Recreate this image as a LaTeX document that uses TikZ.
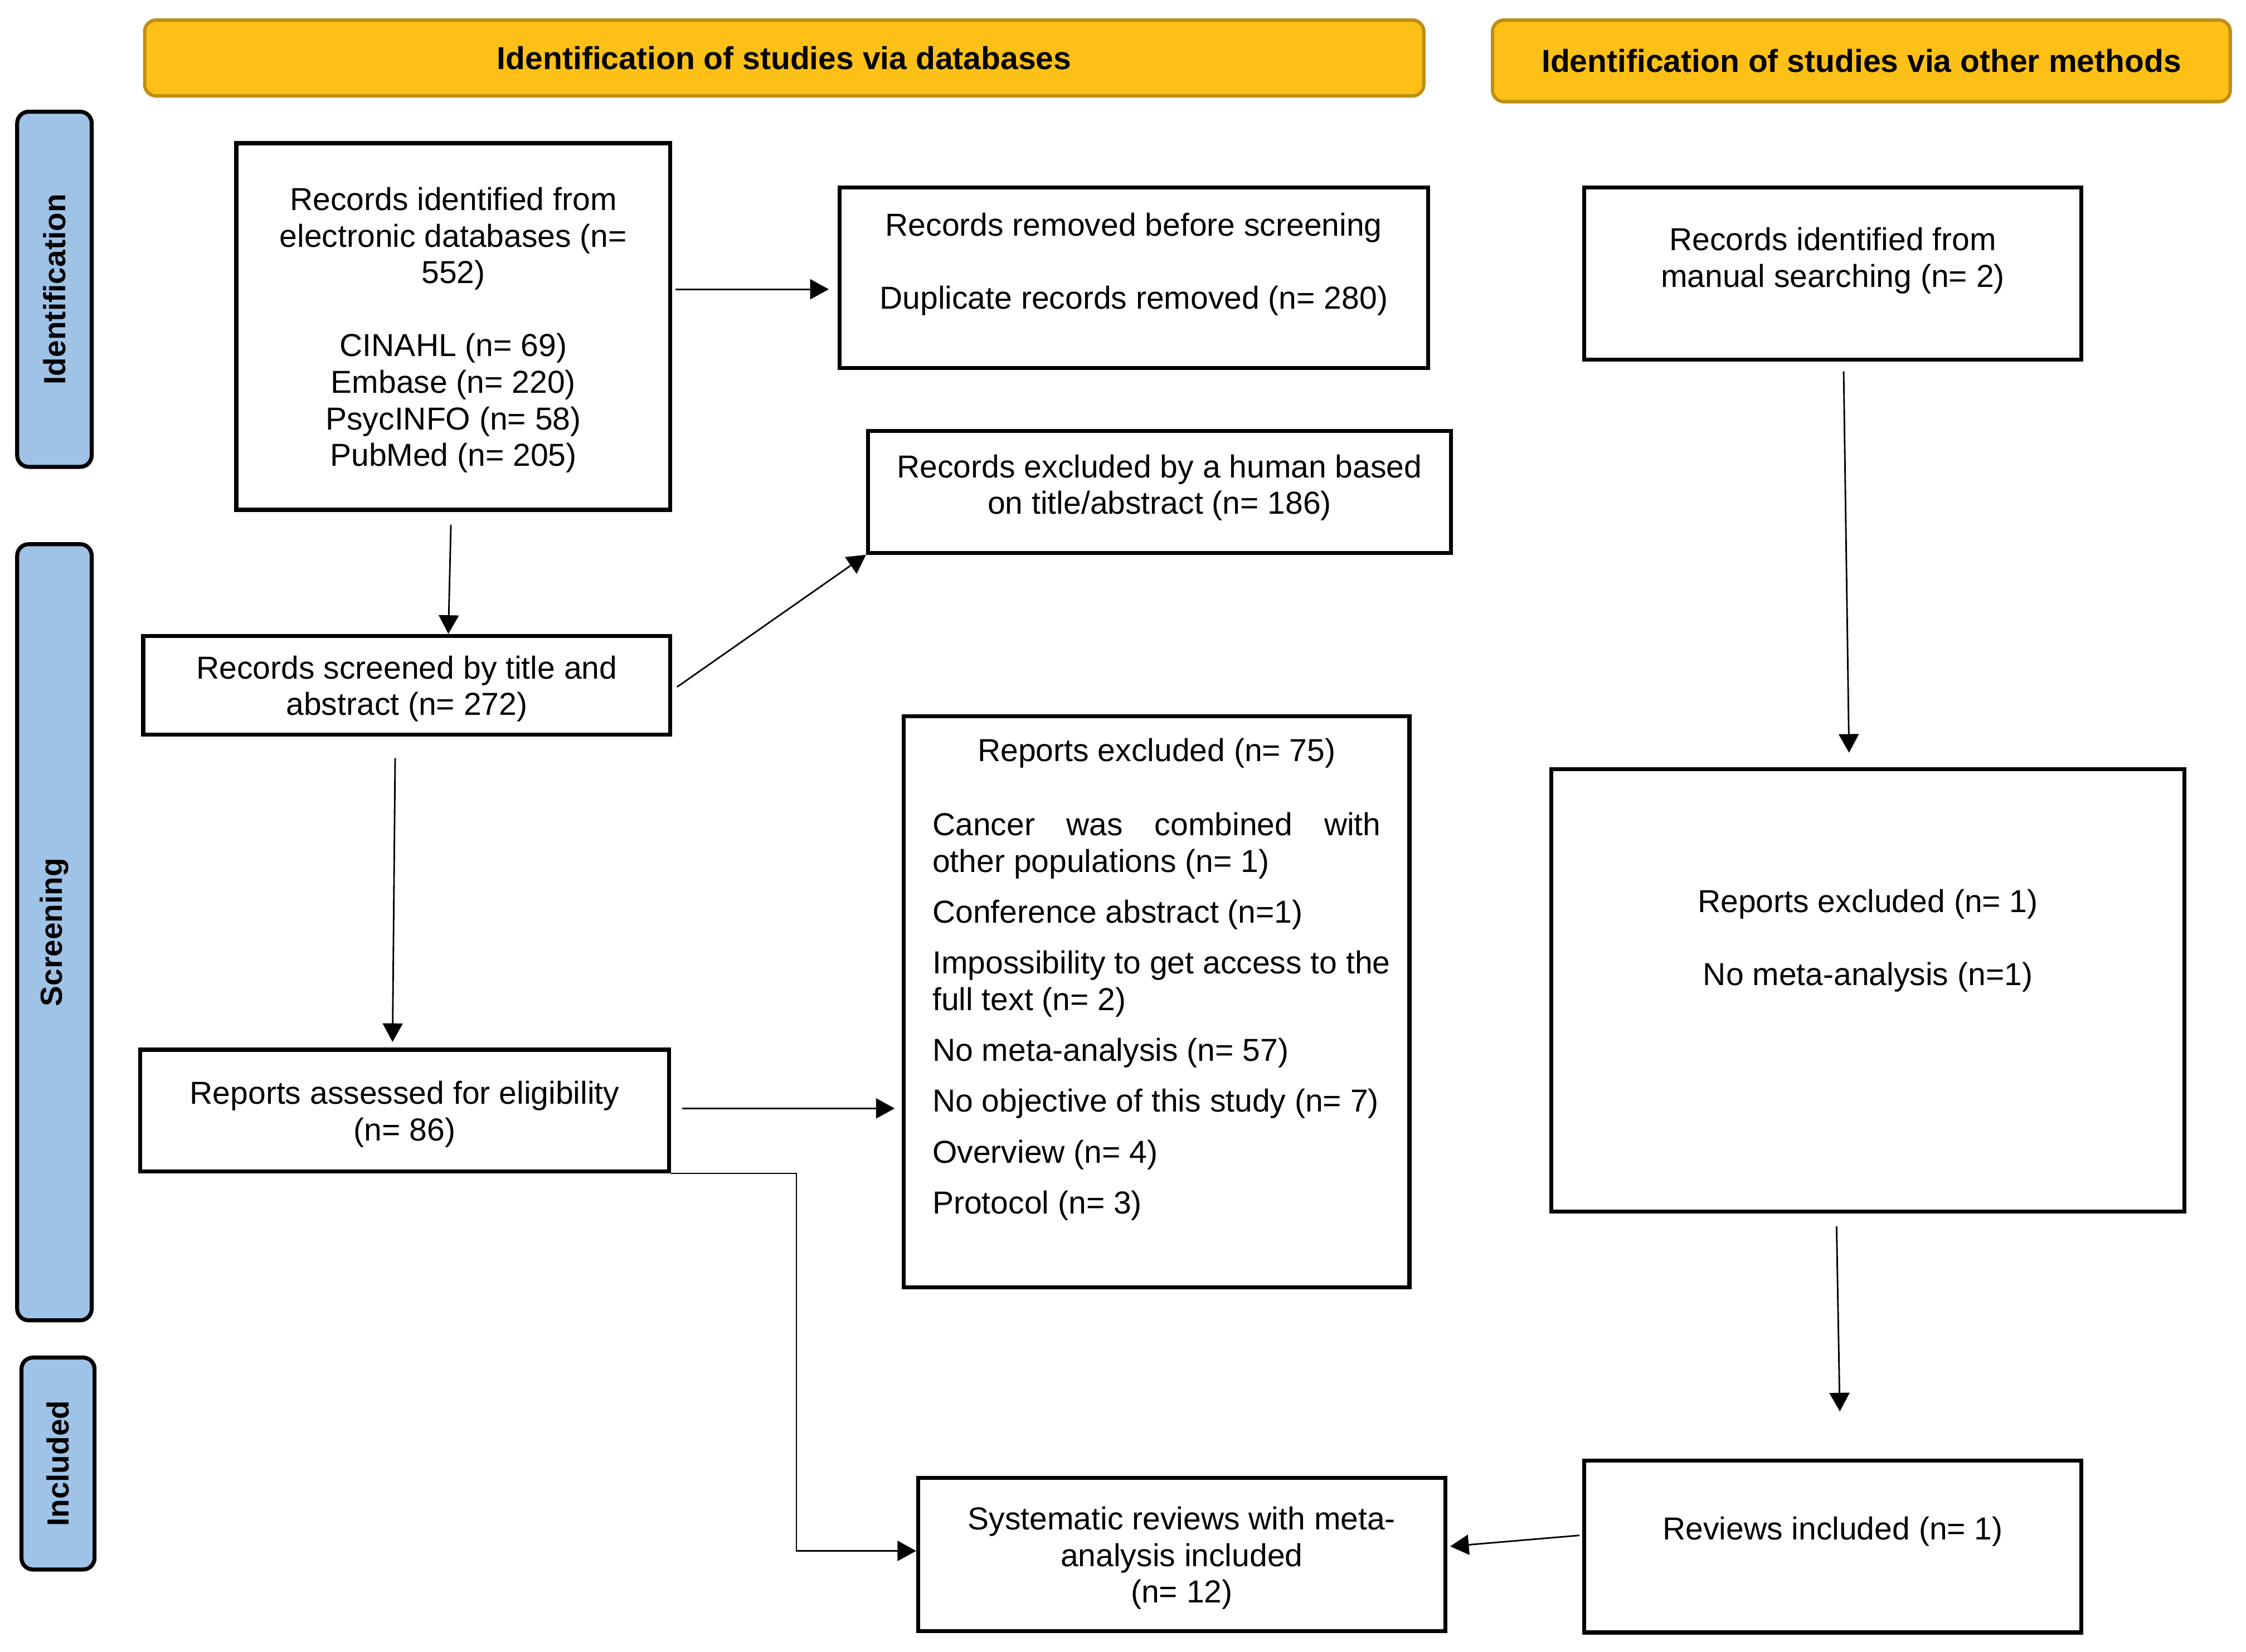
\documentclass[tikz,border=0pt]{standalone}
\usepackage{fontspec}
\setmainfont{Liberation Sans}
\usetikzlibrary{arrows.meta}
\definecolor{hdrfill}{HTML}{FDC017}
\definecolor{hdrline}{HTML}{BF8F14}
\definecolor{barfill}{HTML}{9FC3E7}
\newcommand{\bxt}[4]{\parbox[c][#2][c]{#1}{\centering\vspace*{2.5pt}#4\par\vspace{#3}}}
\begin{document}
\begin{tikzpicture}[x=0.5pt,y=-0.5pt,
  every node/.style={font=\fontsize{11.1}{12.75}\selectfont},
  box/.style={draw=black, line width=1.4pt, inner sep=0pt, fill=white},
  hdr/.style={draw=hdrline, fill=hdrfill, line width=1.2pt, rounded corners=4pt, inner sep=0pt, font=\fontsize{11.1}{12.75}\selectfont\bfseries},
  bar/.style={draw=black, fill=barfill, line width=1.4pt, rounded corners=4pt, inner sep=0pt, rotate=90, font=\fontsize{10.7}{12}\selectfont\bfseries},
  arr/.style={-{Triangle[width=7pt,length=6.5pt]}, line width=0.55pt}]
\useasboundingbox (0,0) rectangle (1568,1153.6);
% headers
\node[hdr, minimum width=446.5pt, minimum height=26.5pt] (h1) at (547.5,40.5) {Identification of studies via databases};
\node[hdr, minimum width=257.5pt, minimum height=28.5pt] (h2) at (1299.5,42.5) {Identification of studies via other methods};
% side bars
\node[bar, minimum width=124pt, minimum height=26pt] (s1) at (38,202) {Identification};
\node[bar, minimum width=271pt, minimum height=26pt] (s2) at (38,651) {Screening};
\node[bar, minimum width=74pt, minimum height=25.5pt] (s3) at (40.5,1022) {Included};
% boxes
\node[box] (A) at (316.5,228) {\bxt{151.5pt}{128pt}{0pt}{Records identified from\\ electronic databases (n=\\ 552)\\[12.75pt] CINAHL (n= 69)\\ Embase (n= 220)\\ PsycINFO (n= 58)\\ PubMed (n= 205)}};
\node[box] (B) at (791.5,194) {\bxt{205.5pt}{63pt}{12pt}{Records removed before screening\\[12.75pt] Duplicate records removed (n= 280)}};
\node[box] (C) at (809.5,343.5) {\bxt{203.5pt}{42.5pt}{5.5pt}{Records excluded by a human based\\ on title/abstract (n= 186)}};
\node[box] (D) at (284,478.5) {\bxt{184pt}{34.5pt}{0pt}{Records screened by title and\\ abstract (n= 272)}};
\node[box, inner xsep=10pt] (E) at (807.5,699.5) {\parbox[c][199.5pt][t]{156.5pt}{\centering\vspace*{6.85pt}\strut Reports excluded (n= 75)\par
\raggedright\vspace{13.25pt}
\makebox[\linewidth][s]{Cancer was combined with}\\
other populations (n= 1)\par\vspace{5pt}
Conference abstract (n=1)\par\vspace{5pt}
\mbox{Impossibility to get access to the}\\
full text (n= 2)\par\vspace{5pt}
No meta-analysis (n= 57)\par\vspace{5pt}
No objective of this study (n= 7)\par\vspace{5pt}
Overview (n= 4)\par\vspace{5pt}
Protocol (n= 3)\par}};
\node[box] (F) at (282.5,775.5) {\bxt{184.5pt}{42.5pt}{0pt}{Reports assessed for eligibility\\ (n= 86)}};
\node[box] (G) at (1279.5,191) {\bxt{173.5pt}{60pt}{11.5pt}{Records identified from\\ manual searching (n= 2)}};
\node[box] (H) at (1304,691.5) {\bxt{221pt}{154.5pt}{37pt}{Reports excluded (n= 1)\\[12.75pt] No meta-analysis (n=1)}};
\node[box] (I) at (825,1085.5) {\bxt{184pt}{53.5pt}{0pt}{Systematic reviews with meta-\\ analysis included\\ (n= 12)}};
\node[box] (J) at (1279.5,1080) {\bxt{173.5pt}{60pt}{13pt}{Reviews included (n= 1)}};
% connectors
\coordinate (pA1) at ([yshift=13pt]A.east);
\draw[arr, shorten <=1pt, shorten >=3pt] (pA1) -- (pA1 -| B.west);
\draw[arr, shorten <=4.5pt] ([xshift=-0.75pt]A.south) -- ([xshift=14.5pt]D.north);
\coordinate (pD1) at ([yshift=-1.75pt]D.east);
\draw[arr, shorten <=2pt] (pD1) -- (C.south west);
\draw[arr, shorten <=7.5pt, shorten >=2pt] ([xshift=-4pt]D.south) -- ([xshift=-4.25pt]F.north);
\coordinate (pF1) at ([yshift=0.75pt]F.east);
\draw[arr, shorten <=4pt, shorten >=2.5pt] (pF1) -- (pF1 -| E.west);
\coordinate (elbow) at (556,1083);
\draw[arr] (F.south east) -| (elbow) -- (elbow -| I.west);
\draw[arr, shorten <=3.5pt, shorten >=5pt] ([xshift=3.75pt]G.south) -- ([xshift=-6.5pt]H.north);
\draw[arr, shorten <=4.5pt, shorten >=16.5pt] ([xshift=-11pt]H.south) -- ([xshift=2.75pt]J.north);
\draw[arr, shorten <=1pt, shorten >=1pt] ([yshift=4pt]J.west) -- ([yshift=2.75pt]I.east);
\end{tikzpicture}
\end{document}
